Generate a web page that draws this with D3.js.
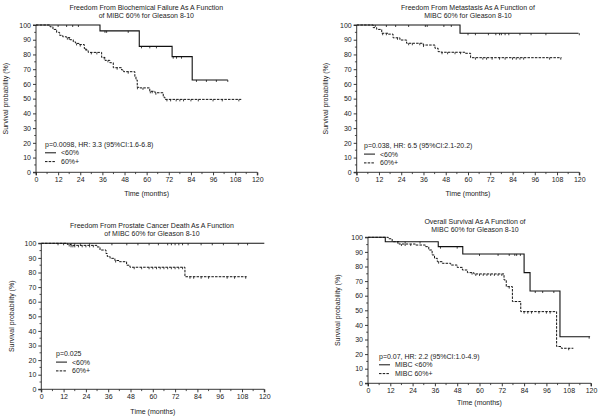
<!DOCTYPE html>
<html><head><meta charset="utf-8">
<script src="https://cdn.jsdelivr.net/npm/d3@7"></script>
<style>body{margin:0;background:#fff}svg{display:block}text{font-family:"Liberation Sans",Arial,sans-serif;fill:#222}</style>
</head><body>
<svg id="c" width="600" height="417"></svg>
<script>
// ---- data ----
const xTicks = [0,12,24,36,48,60,72,84,96,108,120];
const yTicks = [0,10,20,30,40,50,60,70,80,90,100];

// Panel 1: Biochemical failure
const bfLow = [[0,100],[34.7,96],[56,85.5],[73.8,78.5],[84.7,62.7],[104,62.7]];
const bfHigh = [[0,100],[7.6,98.8],[9.2,97],[11.2,95],[12.8,93],[14.5,92],[16.6,91.4],[18.4,90],[20.2,88.5],[21.5,87.5],[23.5,86.7],[26.2,84],[27.2,83],[28.3,81.4],[35.6,78],[37.4,76],[40,74.4],[41.9,71],[46.4,69.5],[47.5,68.3],[53.6,65],[54.2,62.7],[54.9,57.7],[56.3,57.3],[61.7,55],[64.5,54],[69,51],[69.9,49.5],[111.3,49.5]];
const bfLowCens = [12,16.6,19.9,23,37.4,38.3,50,57.2,61.7,65.3,74.4,76.2,78.9,87,92.4,97.8,104];
const bfHighCens = [17,18,22,24,27,30,33,37,39,44,50,55,58,62,63,65,71,73,76,78,80,84,88,96,101,110];

// Panel 2: Metastasis
const mtLow = [[0,100],[55.7,94.4],[119.6,94.4]];
const mtHigh = [[0,100],[8.9,98.2],[10.8,97],[13.5,94.4],[17,93.8],[19.6,91.3],[23.3,89.8],[26.9,87.6],[35.9,86.4],[42.2,84.2],[43.9,81.9],[45.5,81.5],[58.3,80.8],[61.4,77.8],[110.4,77.8]];
const mtLowCens = [10,16,21,28,37,38,47,51,60,64,71,75,77,78,80,82,88,94,102,120];
const mtHighCens = [14,16,22,28,30,34,36,46,49,53,56,64,68,70,73,77,80,84,86,88,90,104,110];

// Panel 3: Prostate cancer death
const pcLow = [[0,100],[120,100]];
const pcHigh = [[0,100],[14,99.2],[16,98.6],[30,97.5],[31.6,95.4],[34.8,93],[35.5,91],[37,89.7],[39.6,88.2],[42,87.4],[45.9,85],[47.7,83.6],[77.3,77.1],[110.5,77.1]];
const pcLowCens = [9,12,16,18,21,26,38,46,52,58,63,68,70,72,74,76,79,86,92,98,106,111];
const pcHighCens = [15,16,17,18,20,22,24,26,28,40,50,54,58,60,62,64,66,68,70,72,74,76,80,82,86,90,100,104,110];

// Panel 4: Overall survival
const osLow = [[0,100],[9.3,97],[37.8,93.6],[51,88.6],[84,75.8],[87.2,63.2],[103.3,31.9],[119.5,31.9]];
const osHigh = [[0,100],[10.9,99],[13,97],[16.6,95.4],[25.5,94.7],[30.9,93.6],[32.7,91.3],[34.5,87.9],[35.8,85.6],[37.3,83.3],[40,82.2],[44.5,81],[48,79.4],[50.8,77.6],[53.5,75.8],[57,74.9],[73.2,70.8],[74.4,66.2],[77.7,56],[82.2,49.1],[101.5,25.2],[104,24],[110.5,24]];
const osLowCens = [20,28,39,48,60,70,76,79,80,82,90,94,100,119];
const osHighCens = [16,18,20,23,38,56,58,60,62,64,66,68,70,72,76,84,86,88,92,96,98,108];

const panels = [
  {title:["Freedom From Biochemical Failure As A Function","of MIBC 60% for Gleason 8-10"], low:bfLow, high:bfHigh, lowC:bfLowCens, highC:bfHighCens,
   stat:"p=0.0098, HR: 3.3 (95%CI:1.6-6.8)", labels:["<60%","60%+"],
   box:{x0:36,x1:257.3,yT:25,yB:172.3,tY:6.5,tX:146.3,xlY:193,ylX:5,lgX:45,lgY:144}},
  {title:["Freedom From Metastasis As A Function of","MIBC 60% for Gleason 8-10"], low:mtLow, high:mtHigh, lowC:mtLowCens, highC:mtHighCens,
   stat:"p=0.038, HR: 6.5 (95%CI:2.1-20.2)", labels:["<60%","60%+"],
   box:{x0:356.7,x1:579.3,yT:25,yB:172.3,tY:6.5,tX:468,xlY:193,ylX:325,lgX:364,lgY:145.3}},
  {title:["Freedom From Prostate Cancer Death As A Function","of MIBC 60% for Gleason 8-10"], low:pcLow, high:pcHigh, lowC:pcLowCens, highC:pcHighCens,
   stat:"p=0.025", labels:["<60%","60%+"],
   box:{x0:41.3,x1:264.3,yT:243.3,yB:389.3,tY:224.5,tX:152,xlY:411,ylX:11.7,lgX:56,lgY:353.3}},
  {title:["Overall Survival As A Function of","MIBC 60% for Gleason 8-10"], low:osLow, high:osHigh, lowC:osLowCens, highC:osHighCens,
   stat:"p=0.07, HR: 2.2 (95%CI:1.0-4.9)", labels:["MIBC <60%","MIBC 60%+"],
   box:{x0:368,x1:591,yT:237.3,yB:383.3,tY:220.5,tX:475,xlY:402.7,ylX:337,lgX:379,lgY:356}}
];

const svg = d3.select("#c");
const FS = 7;

function stepAt(series, t){
  let v = series[0][1];
  for (const p of series){ if (p[0] <= t) v = p[1]; }
  return v;
}

panels.forEach(P => {
  const b = P.box;
  const x = d3.scaleLinear().domain([0,120]).range([b.x0,b.x1]);
  const y = d3.scaleLinear().domain([0,100]).range([b.yB,b.yT]);
  const g = svg.append("g");

  // title
  P.title.forEach((t,i) => g.append("text").attr("x",b.tX).attr("y",b.tY+i*8.7+3)
    .attr("text-anchor","middle").attr("font-size",FS).text(t));

  // axes
  const xMinor = d3.range(6,120,12);
  const yMinor = d3.range(5,100,10);
  const xa = g.append("g").attr("transform",`translate(0,${b.yB})`)
    .call(d3.axisBottom(x).tickValues(xTicks).tickSize(3).tickPadding(2).tickFormat(d3.format("d")));
  xa.selectAll(".tick").filter(d=>false);
  g.append("g").attr("transform",`translate(0,${b.yB})`)
    .selectAll("line").data(xMinor).join("line")
    .attr("x1",d=>x(d)).attr("x2",d=>x(d)).attr("y1",0).attr("y2",1.8).attr("stroke","#222").attr("stroke-width",0.8);
  const ya = g.append("g").attr("transform",`translate(${b.x0},0)`)
    .call(d3.axisLeft(y).tickValues(yTicks).tickSize(3).tickPadding(2).tickFormat(d3.format("d")));
  g.append("g").attr("transform",`translate(${b.x0},0)`)
    .selectAll("line").data(yMinor).join("line")
    .attr("y1",d=>y(d)).attr("y2",d=>y(d)).attr("x1",0).attr("x2",-1.8).attr("stroke","#222").attr("stroke-width",0.8);
  [xa,ya].forEach(a => {
    a.selectAll("path.domain").attr("stroke","#222").attr("stroke-width",0.9);
    a.selectAll(".tick line").attr("stroke","#222").attr("stroke-width",0.9);
    a.selectAll(".tick text").attr("font-size",FS).attr("fill","#222").attr("font-family","Liberation Sans, Arial, sans-serif");
  });
  ya.select("path.domain").attr("d",`M-3,${b.yB}H0V${b.yT}H-3`);
  xa.select("path.domain").attr("d",`M${b.x0},3V0H${b.x1}V3`);

  // axis labels
  g.append("text").attr("x",(b.x0+b.x1)/2).attr("y",b.xlY+2.5).attr("text-anchor","middle").attr("font-size",FS).text("Time (months)");
  g.append("text").attr("transform",`translate(${b.ylX+2.5},${(b.yT+b.yB)/2}) rotate(-90)`)
    .attr("text-anchor","middle").attr("font-size",FS).text("Survival probability (%)");

  // curves
  const line = d3.line().x(d=>x(d[0])).y(d=>y(d[1])).curve(d3.curveStepAfter);
  g.append("path").attr("d",line(P.low)).attr("fill","none").attr("stroke","#111").attr("stroke-width",1.1);
  g.append("path").attr("d",line(P.high)).attr("fill","none").attr("stroke","#111").attr("stroke-width",1)
    .attr("stroke-dasharray","2.5,1.2");

  // censor marks
  const cens = (arr, series, w) => g.append("g").selectAll("line").data(arr).join("line")
    .attr("x1",d=>x(d)).attr("x2",d=>x(d))
    .attr("y1",d=>y(stepAt(series,d))).attr("y2",d=>y(stepAt(series,d))+2)
    .attr("stroke","#111").attr("stroke-width",w);
  cens(P.lowC, P.low, 0.8);
  cens(P.highC, P.high, 0.8);

  // legend
  g.append("text").attr("x",b.lgX).attr("y",b.lgY+2.5).attr("font-size",FS).text(P.stat);
  const ly1 = b.lgY+8.8, ly2 = b.lgY+17.6;
  g.append("line").attr("x1",b.lgX).attr("x2",b.lgX+11).attr("y1",ly1).attr("y2",ly1).attr("stroke","#111").attr("stroke-width",1);
  g.append("line").attr("x1",b.lgX).attr("x2",b.lgX+11).attr("y1",ly2).attr("y2",ly2).attr("stroke","#111").attr("stroke-width",1).attr("stroke-dasharray","2.5,1.2");
  g.append("text").attr("x",b.lgX+16).attr("y",ly1+2.5).attr("font-size",FS).text(P.labels[0]);
  g.append("text").attr("x",b.lgX+16).attr("y",ly2+2.5).attr("font-size",FS).text(P.labels[1]);
});
</script>
</body></html>
